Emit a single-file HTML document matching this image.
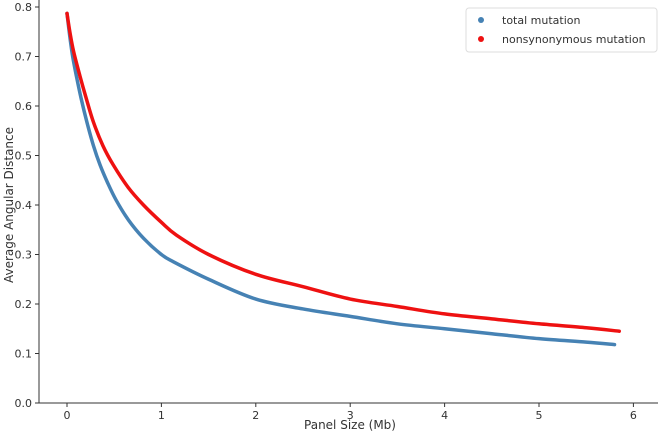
<!DOCTYPE html>
<html><head><meta charset="utf-8"><style>
body{margin:0;background:#fff}
svg text{font-family:"DejaVu Sans","Liberation Sans",sans-serif;fill:#333}
</style></head><body>
<svg id="chart" width="660" height="435">
<g id="axes"></g><g id="series"></g>
<g>
<rect x="466" y="8" width="191" height="44" rx="3" fill="#fff" stroke="#ddd"/>
<circle cx="481" cy="20" r="3" fill="#4682b4"/>
<text x="502" y="24" font-size="11">total mutation</text>
<circle cx="481" cy="39" r="3" fill="#ee1111"/>
<text x="502" y="43" font-size="11">nonsynonymous mutation</text>
</g>
<text x="350" y="429" font-size="12" text-anchor="middle">Panel Size (Mb)</text>
<text transform="translate(13,205) rotate(-90)" font-size="12" text-anchor="middle">Average Angular Distance</text>
</svg>
<script>
const redX=[0,.03,.07,.138,.2,.279,.38,.49,.65,.81,1,1.16,1.5,2,2.5,3,3.5,4,4.5,5,5.5,5.85];
const redVals=[.787,.75,.71,.66,.618,.568,.52,.481,.435,.40,.365,.339,.30,.26,.235,.21,.195,.18,.17,.16,.152,.145];
const blueX=[0,.03,.06,.10,.15,.21,.28,.35,.43,.52,.65,.81,1,1.13,1.5,2,2.5,3,3.5,4,4.5,5,5.5,5.8];
const blueVals=[.787,.74,.70,.66,.615,.568,.52,.481,.445,.41,.37,.333,.30,.285,.25,.21,.19,.175,.16,.15,.14,.13,.123,.118];
const xTicks=[0,1,2,3,4,5,6];
const yTicks=[0.0,0.1,0.2,0.3,0.4,0.5,0.6,0.7,0.8];
const NS='http://www.w3.org/2000/svg';
const X=v=>67+v*94.4, Y=v=>403-v*495;
const axes=document.getElementById('axes'), ser=document.getElementById('series');
function mk(tag,attrs,parent){const e=document.createElementNS(NS,tag);for(const k in attrs)e.setAttribute(k,attrs[k]);parent.appendChild(e);return e;}
let l=mk('line',{x1:39,y1:0,x2:39,y2:403,stroke:'#333','stroke-width':1},axes);


l=mk('line',{x1:39,y1:403,x2:658,y2:403,stroke:'#333','stroke-width':1},axes);


xTicks.forEach(t=>{
 mk('line',{x1:X(t),x2:X(t),y1:403,y2:407,stroke:'#333'},axes);
 const tx=mk('text',{x:X(t),y:419,'font-size':11,'text-anchor':'middle'},axes);tx.textContent=t;
 
 
});
yTicks.forEach(t=>{
 mk('line',{x1:35,x2:39,y1:Y(t),y2:Y(t),stroke:'#333'},axes);
 const tx=mk('text',{x:32,y:Y(t)+4,'font-size':11,'text-anchor':'end'},axes);tx.textContent=t.toFixed(1);
 
 
});
function smooth(pts){
 let d='M'+pts[0][0]+','+pts[0][1];
 for(let i=0;i<pts.length-1;i++){
  const p0=pts[Math.max(0,i-1)],p1=pts[i],p2=pts[i+1],p3=pts[Math.min(pts.length-1,i+2)];
  const c1=[p1[0]+(p2[0]-p0[0])/6,p1[1]+(p2[1]-p0[1])/6];
  const c2=[p2[0]-(p3[0]-p1[0])/6,p2[1]-(p3[1]-p1[1])/6];
  d+=' C'+c1+' '+c2+' '+p2;
 }
 return d;
}
function draw(xs,vals,color,name){
 const pts=xs.map((x,i)=>[X(x),Y(vals[i])]);
 const p=mk('path',{d:smooth(pts),fill:'none',stroke:color,'stroke-width':3.5,'stroke-linejoin':'round','stroke-linecap':'round'},ser);
 
 
}
draw(blueX,blueVals,'#4682b4','series-total-mutation');
draw(redX,redVals,'#ee1111','series-nonsynonymous-mutation');
</script>
</body></html>
